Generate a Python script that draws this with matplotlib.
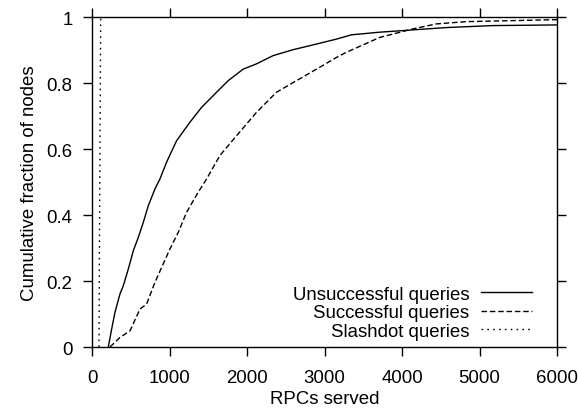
import matplotlib
matplotlib.use('Agg')
import matplotlib.pyplot as plt

# CDF de RPCs servidos por nodo
unsucc_x = [210, 254, 296, 361, 404, 468, 533, 597, 662, 726, 812, 876, 962, 1091,
            1263, 1413, 1628, 1757, 1950, 2122, 2337, 2595, 2896, 3153, 3346, 3711,
            4141, 4570, 5171, 6000]
unsucc_y = [0.0, 0.055, 0.105, 0.161, 0.186, 0.236, 0.292, 0.332, 0.378, 0.428, 0.479,
            0.509, 0.560, 0.625, 0.681, 0.726, 0.777, 0.807, 0.842, 0.858, 0.883, 0.901,
            0.918, 0.933, 0.946, 0.954, 0.961, 0.968, 0.974, 0.976]

succ_x = [232, 361, 490, 619, 704, 812, 898, 1005, 1112, 1220, 1370, 1478, 1649, 1864,
          2122, 2380, 2638, 2896, 3173, 3282, 3711, 4141, 4441, 4828, 6000]
succ_y = [0.0, 0.029, 0.049, 0.115, 0.130, 0.196, 0.241, 0.297, 0.347, 0.408, 0.469,
          0.509, 0.580, 0.640, 0.711, 0.772, 0.807, 0.842, 0.880, 0.893, 0.938, 0.964,
          0.979, 0.986, 0.992]

slash_x = [90, 100, 112]
slash_y = [0.0, 0.5, 1.0]

xticks = [0, 1000, 2000, 3000, 4000, 5000, 6000]
yticks = [0, 0.2, 0.4, 0.6, 0.8, 1]
ytick_labels = ['0', '0.2', '0.4', '0.6', '0.8', '1']

plt.rcParams['font.family'] = ['Liberation Sans', 'DejaVu Sans']
plt.rcParams['font.size'] = 13.4

fig = plt.figure(figsize=(5.78, 4.14), dpi=100)
ax = fig.add_axes([0.1592, 0.1594, 0.8045, 0.7971])

ax.plot(unsucc_x, unsucc_y, color='black', lw=1.0, label='Unsuccessful queries')
ax.plot(succ_x, succ_y, color='black', lw=1.0, dashes=(4, 2), label='Successful queries')
ax.plot(slash_x, slash_y, color='black', lw=1.0, dashes=(1.2, 3), label='Slashdot queries')

ax.set_xlim(0, 6000)
ax.set_ylim(0, 1)
ax.set_xticks(xticks)
ax.set_yticks(yticks)
ax.set_yticklabels(ytick_labels)
ax.tick_params(direction='out', length=6.5, width=1.0, top=True, right=True,
               labeltop=False, labelright=False)
ax.tick_params(axis='y', pad=7.5)
ax.tick_params(axis='x', pad=9)
for s in ax.spines.values():
    s.set_linewidth(1.0)

ax.set_xlabel('RPCs served', labelpad=3)
ax.set_ylabel('Cumulative fraction of nodes', labelpad=6)

leg = ax.legend(loc='lower right', frameon=False, markerfirst=False, handlelength=2.75,
                handletextpad=0.6, labelspacing=0.08, borderaxespad=0.0,
                bbox_to_anchor=(0.962, 0.0))
for t in leg.get_texts():
    t.set_ha('right')

fig.savefig('out.png', dpi=100)
